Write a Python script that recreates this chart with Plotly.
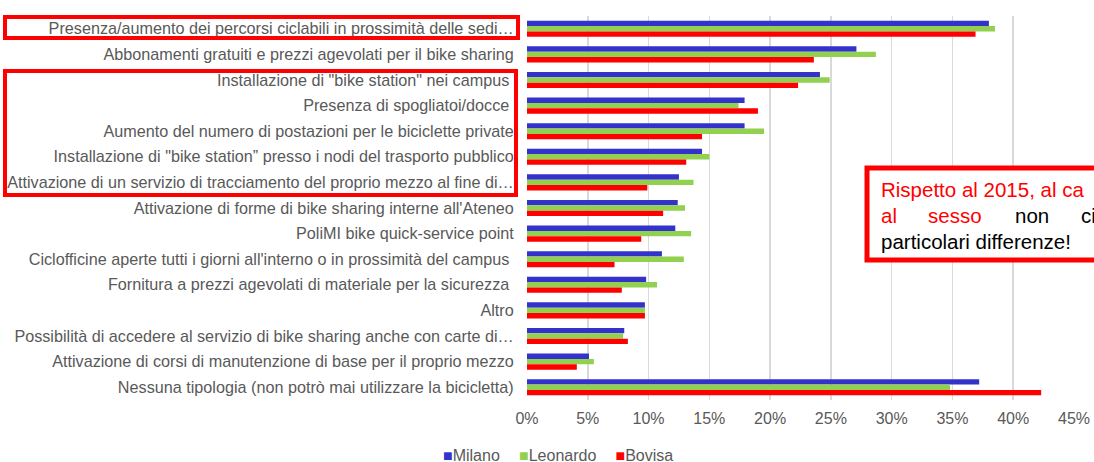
import plotly.graph_objects as go

categories = [
    "Presenza/aumento dei percorsi ciclabili in prossimità delle sedi…",
    "Abbonamenti gratuiti e prezzi agevolati per il bike sharing",
    "Installazione di \"bike station\" nei campus\u00a0",
    "Presenza di spogliatoi/docce\u00a0",
    "Aumento del numero di postazioni per le biciclette private",
    "Installazione di \"bike station” presso i nodi del trasporto pubblico",
    "Attivazione di un servizio di tracciamento del proprio mezzo al fine di…",
    "Attivazione di forme di bike sharing interne all'Ateneo",
    "PoliMI bike quick-service point",
    "Ciclofficine aperte tutti i giorni all'interno o in prossimità del campus\u00a0",
    "Fornitura a prezzi agevolati di materiale per la sicurezza\u00a0",
    "Altro",
    "Possibilità di accedere al servizio di bike sharing anche con carte di…",
    "Attivazione di corsi di manutenzione di base per il proprio mezzo",
    "Nessuna tipologia (non potrò mai utilizzare la bicicletta)",
]

milano = [38.0, 27.1, 24.1, 17.9, 17.9, 14.4, 12.5, 12.4, 12.2, 11.1, 9.8, 9.7, 8.0, 5.1, 37.2]
leonardo = [38.5, 28.7, 24.9, 17.4, 19.5, 15.0, 13.7, 13.0, 13.5, 12.9, 10.7, 9.7, 7.9, 5.5, 34.8]
bovisa = [36.9, 23.6, 22.3, 19.0, 14.4, 13.1, 9.9, 11.2, 9.4, 7.2, 7.8, 9.7, 8.3, 4.1, 42.3]

series = [("Milano", milano, "#3333CC"), ("Leonardo", leonardo, "#92D050"), ("Bovisa", bovisa, "#FF0000")]

tick_vals = [0, 5, 10, 15, 20, 25, 30, 35, 40, 45]
tick_text = [f"{v}%" for v in tick_vals]

W, H = 1094, 462
ML, MR, MT, MB = 527, 20, 16, 62
PW, PH = W - ML - MR, H - MT - MB

def px(x):
    return (x - ML) / PW

def py(y):
    return (H - MB - y) / PH

fig = go.Figure()
for name, vals, col in series:
    fig.add_trace(go.Bar(y=categories, x=vals, name=name, orientation="h",
                         marker=dict(color=col, line=dict(width=0)), hoverinfo="skip"))

font_family = "Liberation Sans, Arial, sans-serif"
GRAY = "#595959"

shapes = [
    dict(type="rect", xref="paper", yref="paper", x0=px(5), x1=px(518), y0=py(17), y1=py(38),
         line=dict(color="#FF0000", width=4), fillcolor="rgba(0,0,0,0)", layer="above"),
    dict(type="rect", xref="paper", yref="paper", x0=px(5), x1=px(516), y0=py(71), y1=py(195),
         line=dict(color="#FF0000", width=4), fillcolor="rgba(0,0,0,0)", layer="above"),
    dict(type="rect", xref="paper", yref="paper", x0=px(867), x1=px(1120), y0=py(168), y1=py(260),
         line=dict(color="#FF0000", width=5), fillcolor="white", layer="above"),
]

def ann(text, x, y, color, size=20.5, anchor="left"):
    return dict(text=text, xref="paper", yref="paper", x=px(x), y=py(y), xanchor=anchor,
                yanchor="middle", showarrow=False,
                font=dict(family=font_family, size=size, color=color))

annotations = [
    ann("Rispetto al 2015, al ca", 879, 189, "#FF0000"),
    ann("al", 879, 215, "#FF0000"),
    ann("sesso", 926, 215, "#FF0000"),
    ann("non", 1013, 215, "#000000"),
    ann("ci", 1079, 215, "#000000"),
    ann("particolari differenze!", 879, 241, "#000000"),
]

# legend built from series names and colours
legend_text = "\u2003\u2009".join(
    f"<span style='color:{col}'>\u25A0</span>{name}" for name, _, col in series
)
annotations.append(ann(legend_text, 558, 455, GRAY, size=16, anchor="center"))

fig.update_layout(
    width=W, height=H,
    margin=dict(l=ML, r=MR, t=MT, b=MB, autoexpand=False),
    paper_bgcolor="white", plot_bgcolor="white",
    barmode="group", bargap=0.37, bargroupgap=0,
    font=dict(family=font_family, size=16, color=GRAY),
    showlegend=False,
    hovermode=False,
    shapes=shapes,
    annotations=annotations,
)
fig.update_xaxes(range=[0, 45], tickvals=tick_vals, ticktext=tick_text, automargin=False,
                 showgrid=True, gridcolor="#D9D9D9", gridwidth=1.5, zeroline=False,
                 showline=False, ticks="outside", ticklen=4, tickcolor="rgba(0,0,0,0)",
                 tickfont=dict(size=16, color=GRAY), fixedrange=True)
fig.update_yaxes(autorange="reversed", showgrid=False, showline=False, zeroline=False,
                 automargin=False,
                 ticks="outside", ticklen=9, tickcolor="rgba(0,0,0,0)",
                 tickfont=dict(size=16.2, color=GRAY), fixedrange=True)

fig.write_html("out.html",
               config={"displayModeBar": False, "staticPlot": True},
               post_script="document.body.style.margin='0';document.body.style.overflow='hidden';")
